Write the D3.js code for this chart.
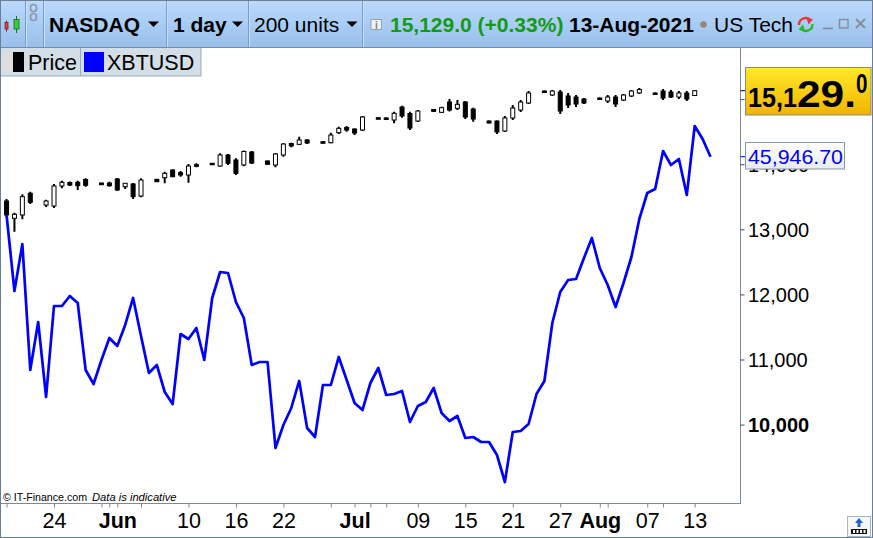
<!DOCTYPE html>
<html><head><meta charset="utf-8">
<script src="https://cdn.jsdelivr.net/npm/d3@7"></script>
<style>
body{margin:0;background:#fff;overflow:hidden}
svg{display:block;font-family:"Liberation Sans",Arial,sans-serif}
</style></head><body>
<svg id="c" width="873" height="538"></svg>
<script>
// ---------- DATA ----------
const candleDates = ["05-18","05-19","05-20","05-21","05-23","05-24","05-25","05-26","05-27","05-28","05-30","05-31",
"06-01","06-02","06-03","06-04","06-06","06-07","06-08","06-09","06-10","06-11","06-13","06-14","06-15","06-16","06-17","06-18","06-20","06-21","06-22","06-23","06-24","06-25","06-27","06-28","06-29","06-30",
"07-01","07-02","07-04","07-05","07-06","07-07","07-08","07-09","07-11","07-12","07-13","07-14","07-15","07-16","07-18","07-19","07-20","07-21","07-22","07-23","07-25","07-26","07-27","07-28","07-29","07-30",
"08-01","08-02","08-03","08-04","08-05","08-06","08-08","08-09","08-10","08-11","08-12","08-13"];
const priceOpen = [13435,13169,13220,13553,13373,13358,13665,13719,13722,13765,13711,13711,
13773,13654,13696,13511,13768,13793,13911,13869,13834,13992,14014,13972,14141,14064,13988,14187,14049,13988,14141,14318,14305,14372,14345,14330,14484,14564,
14540,14525,14714,14710,14679,14878,14779,14663,14840,14797,14955,14858,14955,14847,14663,14663,14510,14710,14832,14940,15124,15063,15109,15048,15032,15001,
15017,14971,15032,14986,15048,15094,15094,15124,15109,15032,15094,15055];
const priceHigh = [13465,13255,13538,13578,13455,13696,13746,13734,13746,13783,13716,13731,
13788,13711,13711,13783,13773,13885,13922,13895,14003,14014,14018,14167,14157,14091,14210,14203,14057,14172,14320,14330,14422,14382,14352,14484,14576,14587,
14551,14740,14717,14720,14806,14898,14806,14832,14848,14883,15001,14986,14970,14868,14671,14671,14740,14909,14986,15124,15132,15140,15140,15094,15063,15017,
15025,15063,15063,15078,15140,15170,15101,15155,15140,15124,15124,15140];
const priceLow = [13189,12963,13154,13389,13343,13327,13630,13665,13604,13654,13680,13654,
13588,13619,13465,13492,13726,13707,13799,13808,13716,13952,13992,13962,13988,13834,13970,14003,13995,13952,14115,14260,14295,14310,14318,14320,14464,14499,
14448,14510,14689,14679,14628,14714,14525,14648,14802,14786,14809,14832,14694,14653,14625,14464,14495,14679,14802,14925,15094,15048,14771,14863,14878,14925,
14994,14940,14878,14971,15032,15078,15071,14986,15017,15001,14971,15048];
const priceClose = [13220,13230,13501,13415,13435,13665,13722,13680,13670,13676,13685,13670,
13604,13707,13501,13757,13731,13860,13808,13834,13972,13968,13998,14141,14014,13860,14195,14018,13998,14157,14310,14280,14372,14326,14326,14448,14551,14525,
14479,14725,14694,14689,14782,14740,14556,14817,14812,14868,14832,14920,14725,14694,14633,14495,14710,14863,14955,15094,15101,15124,14817,14909,14925,14940,
15001,15032,14925,15063,15124,15147,15078,15017,15032,15094,15001,15129];

// XBTUSD daily values, one per day starting 2021-05-18
const btcStart = "05-18";
const btcValues = [43051,39277,41611,35353,37737,34012,38532,38532,39028,38681,35353,34658,35850,36942,
36545,37588,38929,37042,35204,35601,34260,33664,37141,36893,37439,35850,38929,40220,40171,38730,37936,35601,35750,35750,31479,32621,33466,34807,32472,32025,34608,34608,35999,34856,
33714,33366,34707,35452,34111,34161,34310,32770,33565,33764,34459,33217,32820,33068,31976,32025,31777,31777,31131,29790,32274,32323,32671,34161,34807,37687,39227,39823,39873,40916,41909,
40419,39575,38482,39674,40965,42853,44144,44343,46230,45535,45833,44045,47472,46826,45946.7];

const xTickDates  = ["05-24","06-01","06-10","06-16","06-22","07-01","07-09","07-15","07-21","07-27","08-01","08-07","08-13"];
const xTickLabels = ["24","Jun","10","16","22","Jul","09","15","21","27","Aug","07","13"];
const xMinorDates = ["05-18","05-30","05-31","06-04","06-28","07-03","07-05","08-02","08-09"];
const yTicks = [10000,11000,12000,13000,14000,15000];
const yHiddenLabels = [15000]; // fully covered by the last-price box in the reference
const lastPrice = 15129.0, lastBtc = 45946.70;

// ---------- SETUP ----------
const parse = s => d3.utcParse("%Y-%m-%d")("2021-" + s);
const svg = d3.select("#c");
const defs = svg.append("defs");
const x = d3.scaleUtc().domain([parse("05-24"), parse("08-13")]).range([54, 694.7]);
const yP = d3.scaleLinear().domain([10000, 15000]).range([424.6, 99.1]);
const yB = d3.scaleLinear().domain([29790, 45946.7]).range([482, 156.7]);

function grad(id, stops){
  const g = defs.append("linearGradient").attr("id", id).attr("x1",0).attr("y1",0).attr("x2",0).attr("y2",1);
  stops.forEach(([o,c]) => g.append("stop").attr("offset", o).attr("stop-color", c));
}
grad("tb", [[0,"#bcd9fb"],[0.5,"#a9cdf5"],[1,"#98bfea"]]);
grad("yl", [[0,"#ffe92a"],[1,"#f0b400"]]);
grad("wl", [[0,"#ffffff"],[1,"#e8ecef"]]);

defs.append("clipPath").attr("id","plot").append("rect").attr("x",2).attr("y",48).attr("width",738.5).attr("height",455);
defs.append("clipPath").attr("id","tbclip").append("rect").attr("x",700).attr("y",0).attr("width",97).attr("height",47);

// ---------- PLOT ----------
const plot = svg.append("g").attr("clip-path","url(#plot)");

const candles = candleDates.map((d,i) => ({d: parse(d), o: priceOpen[i], h: priceHigh[i], l: priceLow[i], c: priceClose[i]}));
const cg = plot.append("g");
cg.selectAll("line.w").data(candles).join("line")
  .attr("x1", d => x(d.d)).attr("x2", d => x(d.d))
  .attr("y1", d => yP(d.h)).attr("y2", d => yP(d.l))
  .attr("stroke","#000").attr("stroke-width",2);
cg.selectAll("rect.b").data(candles).join("rect")
  .attr("x", d => x(d.d) - 2).attr("width", 4)
  .attr("y", d => yP(Math.max(d.o,d.c)))
  .attr("height", d => Math.max(1.5, Math.abs(yP(d.o) - yP(d.c))))
  .attr("fill", d => d.c >= d.o ? "#fff" : "#000")
  .attr("stroke","#000").attr("stroke-width",1);

const btc = btcValues.map((v,i) => ({d: d3.utcDay.offset(parse(btcStart), i), v}));
plot.append("path").datum(btc)
  .attr("d", d3.line().x(d => x(d.d)).y(d => yB(d.v)))
  .attr("fill","none").attr("stroke","#0000ff").attr("stroke-width",2.7).attr("stroke-linejoin","round");

// ---------- X AXIS ----------
svg.append("line").attr("x1",0).attr("x2",740.5).attr("y1",503.5).attr("y2",503.5).attr("stroke","#7a8a9a");
const allTicks = xTickDates.concat(xMinorDates).map(parse);
const labelOf = d => { const i = xTickDates.findIndex(s => +parse(s) === +d); return i >= 0 ? xTickLabels[i] : ""; };
const xa = svg.append("g").attr("transform","translate(0,503.5)")
  .call(d3.axisBottom(x).tickValues(allTicks).tickSize(4).tickFormat(labelOf));
xa.select(".domain").remove();
xa.selectAll(".tick line").attr("stroke","#7a8a9a");
xa.selectAll(".tick text").attr("y",24.5).attr("dy",0)
  .attr("font-family","'Liberation Sans',Arial,sans-serif").attr("font-size",21.5).attr("fill","#000")
  .attr("font-weight", d => /[A-Za-z]/.test(labelOf(d)) ? "bold" : "normal");

// copyright
svg.append("text").attr("x",3).attr("y",500.5).attr("font-size",11.5).attr("fill","#000")
  .attr("textLength",84).attr("lengthAdjust","spacingAndGlyphs").text("© IT-Finance.com");
svg.append("text").attr("x",92).attr("y",500.5).attr("font-size",11.5).attr("font-style","italic").attr("fill","#000")
  .attr("textLength",84.5).attr("lengthAdjust","spacingAndGlyphs").text("Data is indicative");

// ---------- RIGHT AXIS ----------
svg.append("line").attr("x1",740.5).attr("x2",740.5).attr("y1",47).attr("y2",504).attr("stroke","#7a8a9a");
const ya = svg.append("g").attr("transform","translate(740.5,0)")
  .call(d3.axisRight(yP).tickValues(yTicks).tickSize(4)
    .tickFormat(d => yHiddenLabels.includes(d) ? "" : d3.format(",")(d)));
ya.select(".domain").remove();
ya.selectAll(".tick line").attr("stroke","#445");
ya.selectAll(".tick text").attr("x",7.5).attr("dy","0.36em")
  .attr("font-family","'Liberation Sans',Arial,sans-serif").attr("font-size",20).attr("fill","#000")
  .attr("font-weight", d => d === 10000 ? "bold" : "normal");

// blue value label
svg.append("line").attr("x1",740.5).attr("x2",746).attr("y1",yB(lastBtc)).attr("y2",yB(lastBtc)).attr("stroke","#0000ff");
svg.append("rect").attr("x",745.5).attr("y",yB(lastBtc)-14.2).attr("width",99).attr("height",26.5)
  .attr("fill","url(#wl)").attr("stroke","#8797a7");
svg.append("text").attr("x",748).attr("y",yB(lastBtc)+6.8).attr("font-size",21).attr("fill","#0000ff")
  .attr("textLength",95).attr("lengthAdjust","spacingAndGlyphs").text(d3.format(",.2f")(lastBtc));

// yellow price label
svg.append("line").attr("x1",740.5).attr("x2",746).attr("y1",yP(lastPrice)).attr("y2",yP(lastPrice)).attr("stroke","#000");
svg.append("rect").attr("x",745.5).attr("y",67.5).attr("width",125.5).attr("height",47.5)
  .attr("fill","url(#yl)").attr("stroke","#8a8a7a");
const ps = d3.format(",.1f")(lastPrice); // "15,129.0"
const pt = svg.append("text").attr("x",748).attr("y",106.7).attr("font-weight","bold").attr("fill","#000");
pt.append("tspan").attr("font-size",28).attr("textLength",49).attr("lengthAdjust","spacingAndGlyphs").text(ps.slice(0,4));
pt.append("tspan").attr("font-size",37).attr("textLength",59).attr("lengthAdjust","spacingAndGlyphs").text(ps.slice(4,7));
pt.append("tspan").attr("font-size",27).attr("dy",-13.4).attr("textLength",11.5).attr("lengthAdjust","spacingAndGlyphs").text(ps.slice(7));

// ---------- LEGEND ----------
const lg = svg.append("g");
lg.append("rect").attr("x",0.5).attr("y",47.5).attr("width",200.5).attr("height",28.5).attr("fill","#d3dee6").attr("stroke","#9aabb9");
lg.append("line").attr("x1",80.5).attr("x2",80.5).attr("y1",47.5).attr("y2",76).attr("stroke","#9aabb9");
lg.append("rect").attr("x",3).attr("y",52).attr("width",10).attr("height",20).attr("fill","#dedede");
lg.append("rect").attr("x",13).attr("y",52).attr("width",11).attr("height",20).attr("fill","#000");
lg.append("text").attr("x",28).attr("y",70).attr("font-size",21.5).text("Price");
lg.append("rect").attr("x",84).attr("y",52).attr("width",20).attr("height",20).attr("fill","#0000ff");
lg.append("text").attr("x",107).attr("y",70).attr("font-size",21.5).text("XBTUSD");

// ---------- TOOLBAR ----------
const tb = svg.append("g");
tb.append("rect").attr("x",0).attr("y",0).attr("width",873).attr("height",47).attr("fill","url(#tb)");
tb.append("line").attr("x1",0).attr("x2",873).attr("y1",47.5).attr("y2",47.5).attr("stroke","#6d8db3");
[25.5,43.5,166.5,248.5,362.5].forEach(sx => {
  tb.append("line").attr("x1",sx).attr("x2",sx).attr("y1",0).attr("y2",47).attr("stroke","#7c9cc4");
  tb.append("line").attr("x1",sx+1).attr("x2",sx+1).attr("y1",0).attr("y2",47).attr("stroke","#c8e0fb");
});
// candle icon
tb.append("line").attr("x1",6.5).attr("x2",6.5).attr("y1",20.5).attr("y2",31.5).attr("stroke","#7a2020");
tb.append("rect").attr("x",5).attr("y",22.5).attr("width",3).attr("height",6.5).attr("fill","#e84040").attr("stroke","#7a2020").attr("stroke-width",0.8);
tb.append("line").attr("x1",16.5).attr("x2",16.5).attr("y1",16).attr("y2",33).attr("stroke","#1a6a1a");
tb.append("rect").attr("x",14).attr("y",19.5).attr("width",5).attr("height",9.5).attr("fill","#35d035").attr("stroke","#1a6a1a").attr("stroke-width",0.8);
// chain icon
tb.append("rect").attr("x",30.5).attr("y",4.5).attr("width",6).attr("height",7).attr("rx",3).attr("fill","none").attr("stroke","#8a98a8").attr("stroke-width",1.6);
tb.append("rect").attr("x",30.5).attr("y",13.5).attr("width",6).attr("height",7).attr("rx",3).attr("fill","none").attr("stroke","#8a98a8").attr("stroke-width",1.6);

const tText = (tx, t, opts={}) => tb.append("text").attr("x",tx).attr("y",31.5).attr("font-size",opts.fs||21)
  .attr("font-weight",opts.b?"bold":"normal").attr("fill",opts.c||"#000").text(t);
const tri = (cx) => tb.append("path").attr("d",`M${cx-5.5},21.5 L${cx+5.5},21.5 L${cx},27 Z`).attr("fill","#000");
tText(49, "NASDAQ", {b:true});
tri(153.5);
tText(173, "1 day", {b:true});
tri(237.5);
tText(254, "200 units");
tri(352);
// info icon
tb.append("rect").attr("x",371).attr("y",19.5).attr("width",10.5).attr("height",10).attr("fill","#eef0f2").attr("stroke","#9aa2aa");
tb.append("text").attr("x",376.3).attr("y",28.5).attr("text-anchor","middle").attr("font-size",10).attr("font-weight","bold").attr("fill","#7a828a").text("i");
tText(390, "15,129.0 (+0.33%)", {b:true, c:"#159a15"});
tText(569, "13-Aug-2021", {b:true});
tb.append("circle").attr("cx",703.5).attr("cy",24.5).attr("r",4).attr("fill","#8a8a8a").attr("stroke","#c9d6e3").attr("stroke-width",1);
tb.append("g").attr("clip-path","url(#tbclip)").append("text").attr("x",714).attr("y",31.5).attr("font-size",21).text("US Tech 100");
// refresh icon
tb.append("path").attr("d","M799,25 A6.5,6.5 0 0 1 810.5,20.5").attr("fill","none").attr("stroke","#e83a3a").attr("stroke-width",2.4);
tb.append("path").attr("d","M806,16.5 L813,19.5 L808.5,24.5 Z").attr("fill","#e83a3a");
tb.append("path").attr("d","M812.5,24 A6.5,6.5 0 0 1 801,28.5").attr("fill","none").attr("stroke","#2cb82c").attr("stroke-width",2.4);
tb.append("path").attr("d","M805.5,32.5 L798.5,29.5 L803,24.5 Z").attr("fill","#2cb82c");
// window controls
tb.append("line").attr("x1",823).attr("x2",833).attr("y1",28.5).attr("y2",28.5).attr("stroke","#858d96").attr("stroke-width",1.6);
tb.append("rect").attr("x",839.5).attr("y",19.5).attr("width",8.5).attr("height",8.5).attr("fill","none").attr("stroke","#858d96").attr("stroke-width",1.4);
tb.append("path").attr("d","M856,19 L865,28 M865,19 L856,28").attr("stroke","#858d96").attr("stroke-width",1.8);

// ---------- FRAME + corner icon ----------
svg.append("rect").attr("x",0.5).attr("y",0.5).attr("width",872).attr("height",537).attr("fill","none").attr("stroke","#6a7e94");
const ic = svg.append("g");
ic.append("rect").attr("x",847.5).attr("y",516.5).attr("width",23).attr("height",20).attr("fill","#f4f6f8").attr("stroke","#a8b4c0");
ic.append("path").attr("d","M859,518 L863,523 L860.5,523 L860.5,527 L857.5,527 L857.5,523 L855,523 Z").attr("fill","#1e60d0");
ic.append("rect").attr("x",851).attr("y",529).attr("width",16).attr("height",5).attr("fill","#111");
[853,856.5,860,863.5].forEach(bx => ic.append("rect").attr("x",bx).attr("y",530).attr("width",2).attr("height",3).attr("fill","#fff"));
</script>
</body></html>
